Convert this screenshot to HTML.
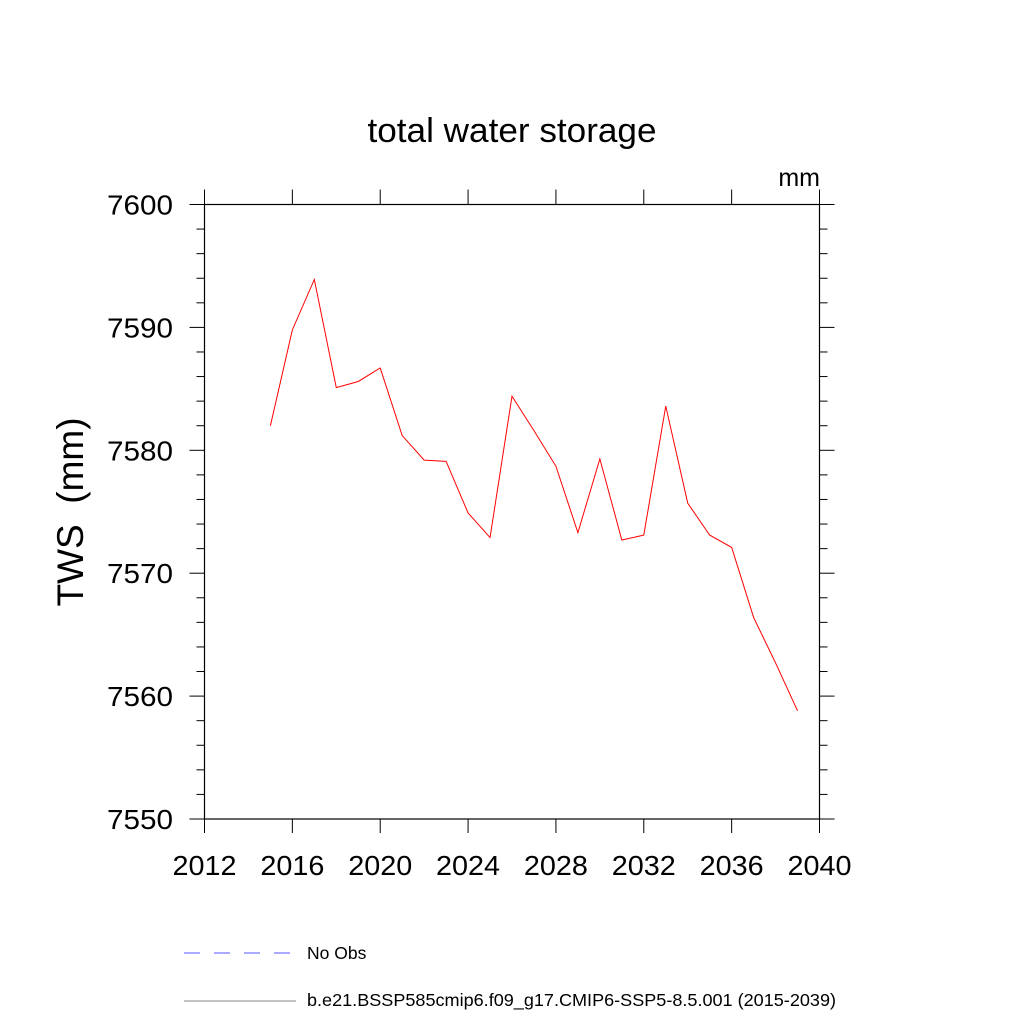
<!DOCTYPE html>
<html><head><meta charset="utf-8"><style>body{margin:0;background:#fff}svg{display:block;font-family:"Liberation Sans",sans-serif}</style></head>
<body>
<svg id="c" width="1024" height="1024"></svg>
<script>
const years=[2015,2016,2017,2018,2019,2020,2021,2022,2023,2024,2025,2026,2027,2028,2029,2030,2031,2032,2033,2034,2035,2036,2037,2038,2039];
const tws=[7582.0,7589.8,7593.9,7585.1,7585.6,7586.7,7581.2,7579.2,7579.1,7574.9,7572.9,7584.4,7581.6,7578.7,7573.3,7579.3,7572.7,7573.1,7583.6,7575.7,7573.1,7572.1,7566.4,7562.7,7558.8];
const xTicks=[2012,2016,2020,2024,2028,2032,2036,2040];
const yTicks=[7550,7560,7570,7580,7590,7600];
const NS='http://www.w3.org/2000/svg',svg=document.getElementById('c');
const L=204.5,R=819.5,T=204.5,B=819;
const X=v=>L+(v-2012)/28*(R-L), Y=v=>B-(v-7550)/50*(B-T);
function el(t,a,txt){const e=document.createElementNS(NS,t);for(const k in a)e.setAttribute(k,a[k]);if(txt!=null)e.textContent=txt;svg.appendChild(e);return e;}
let e=el('text',{x:512,y:142,'font-size':34,'text-anchor':'middle',textLength:289,lengthAdjust:'spacingAndGlyphs'},'total water storage');


e=el('text',{x:820,y:186,'font-size':25,'text-anchor':'end'},'mm');


e=el('text',{x:0,y:0,'font-size':37,'text-anchor':'middle',transform:'translate(83,512) rotate(-90)'},'TWS\u00a0 (mm)');


e=el('rect',{x:L,y:T,width:R-L,height:B-T,fill:'none',stroke:'#000','stroke-width':1.2});


for(let v=7550;v<=7600;v+=2){const maj=v%10===0,len=maj?15:8,y=Y(v);
 el('line',{x1:L-len,x2:L,y1:y,y2:y,stroke:'#000','stroke-width':1});
 el('line',{x1:R,x2:R+len,y1:y,y2:y,stroke:'#000','stroke-width':1});}
yTicks.forEach(v=>{e=el('text',{x:173,y:Y(v)+10,'font-size':28,'text-anchor':'end',textLength:66,lengthAdjust:'spacingAndGlyphs'},String(v));

});
xTicks.forEach(v=>{const x=X(v);
 el('line',{x1:x,x2:x,y1:B,y2:B+14,stroke:'#000','stroke-width':1});
 el('line',{x1:x,x2:x,y1:T-15,y2:T,stroke:'#000','stroke-width':1});
 e=el('text',{x:x,y:875,'font-size':28,'text-anchor':'middle',textLength:64,lengthAdjust:'spacingAndGlyphs'},String(v));
 
 });
e=el('polyline',{points:years.map((y,i)=>X(y)+','+Y(tws[i])).join(' '),fill:'none',stroke:'#f00','stroke-width':1});


e=el('line',{x1:184,x2:292,y1:953,y2:953,stroke:'#55f','stroke-width':1,'stroke-dasharray':'16,14'});


e=el('text',{x:307,y:959,'font-size':17.5},'No Obs');


e=el('line',{x1:184,x2:296,y1:1001,y2:1001,stroke:'#888','stroke-width':1});


e=el('text',{x:307,y:1006,'font-size':17.5,textLength:529,lengthAdjust:'spacingAndGlyphs'},'b.e21.BSSP585cmip6.f09_g17.CMIP6-SSP5-8.5.001 (2015-2039)');


</script>
</body></html>
